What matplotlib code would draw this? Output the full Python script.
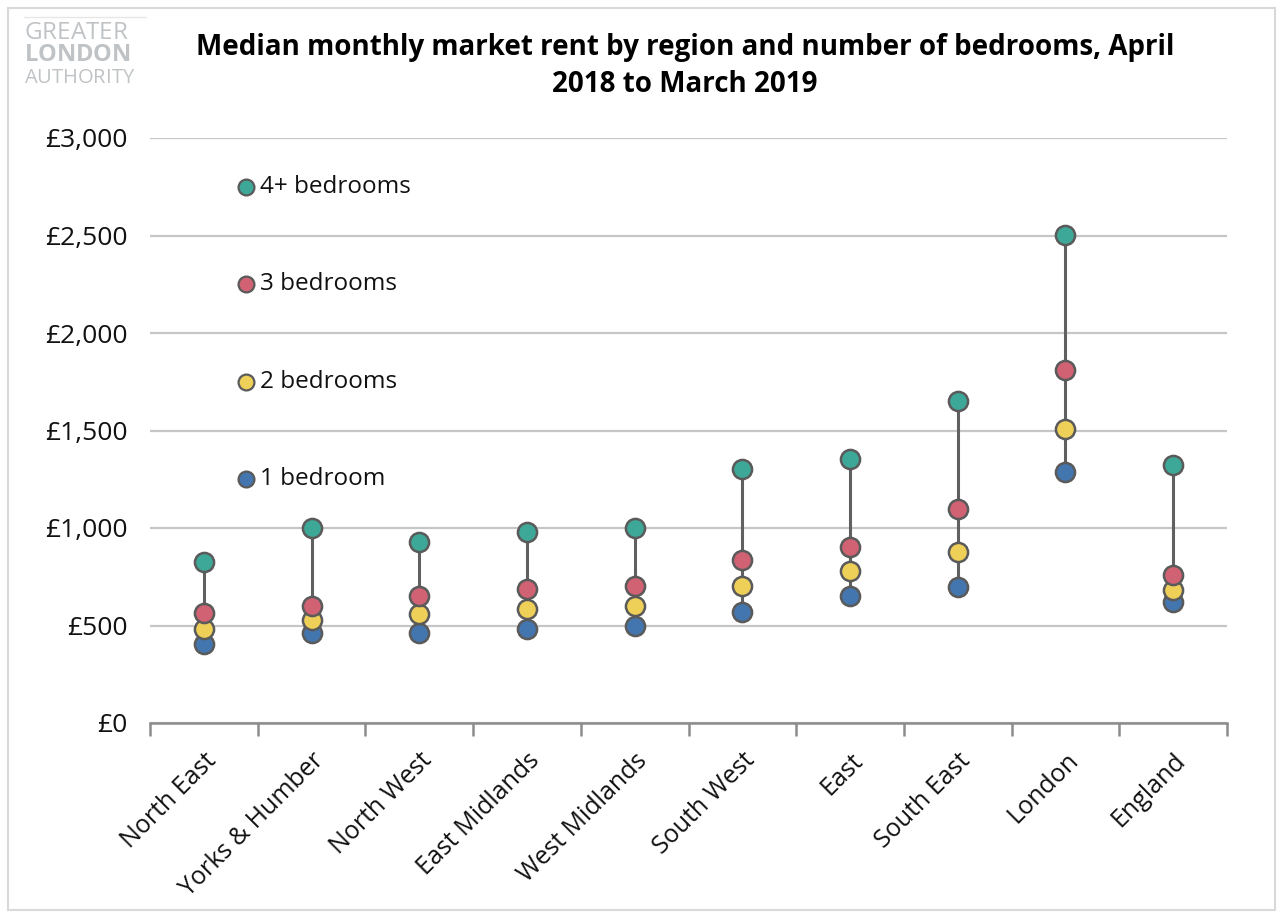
import numpy as np
import matplotlib
matplotlib.use("Agg")
import matplotlib.pyplot as plt
from matplotlib.patches import Rectangle

plt.rcParams["font.family"] = ["Open Sans", "DejaVu Sans"]
plt.rcParams["mathtext.fontset"] = "custom"
plt.rcParams["mathtext.bf"] = "Open Sans:bold"
plt.rcParams["mathtext.rm"] = "Open Sans"

regions = ["North East", "Yorks & Humber", "North West", "East Midlands",
           "West Midlands", "South West", "East", "South East", "London",
           "England"]
bed1 = [405, 460, 460, 480, 500, 570, 650, 700, 1285, 620]
bed2 = [480, 530, 560, 585, 600, 705, 780, 875, 1510, 680]
bed3 = [565, 600, 650, 685, 705, 835, 905, 1100, 1810, 760]
bed4 = [825, 1000, 930, 980, 1000, 1305, 1355, 1650, 2505, 1325]

series_names = ["1 bedroom", "2 bedrooms", "3 bedrooms", "4+ bedrooms"]
series_colors = ["#4375ae", "#eecf58", "#d06273", "#3ea898"]
legend_y = [1250, 1750, 2250, 2750]
yticks = [0, 500, 1000, 1500, 2000, 2500, 3000]

fig = plt.figure(figsize=(12.85, 9.18), dpi=100)
ax = fig.add_axes([150/1285, 1 - 723/918, (1227 - 150)/1285, (723 - 138)/918])

x = np.arange(len(regions))
lo = np.min([bed1, bed2, bed3, bed4], axis=0)
hi = np.max([bed1, bed2, bed3, bed4], axis=0)
ax.vlines(x, lo, hi, color="#606060", lw=2.2, zorder=2)

edge = "#5a5a5a"
for vals, name, col in zip([bed1, bed2, bed3, bed4], series_names, series_colors):
    ax.scatter(x, vals, s=190, color=col, edgecolor=edge, linewidth=1.8, zorder=3)

# inline legend
for ly, name, col in zip(legend_y, series_names, series_colors):
    ax.scatter([0.39], [ly], s=130, color=col, edgecolor=edge, linewidth=1.6,
               zorder=3, clip_on=False)
    ax.text(0.52, ly, name, fontsize=17.5, va="center", ha="left", color="#111111")

ax.set_xlim(-0.5, len(regions) - 0.5)
ax.set_ylim(0, 3000)
ax.set_yticks(yticks)
ax.set_yticklabels(["£{:,}".format(v) for v in yticks], fontsize=19, color="#111111")
ax.tick_params(axis="y", length=0, pad=16)
ax.yaxis.grid(True, color="#c6c6c6", lw=1.6)
ax.set_axisbelow(True)

ax.set_xticks(np.arange(-0.5, len(regions)), minor=False)
ax.set_xticklabels([])
ax.set_xticks(x, minor=True)
ax.set_xticklabels(regions, minor=True, rotation=45, ha="right",
                   rotation_mode="anchor", fontsize=18, color="#111111")
ax.tick_params(axis="x", which="major", length=9, width=1.8, color="#8c8c8c",
               direction="out")
ax.tick_params(axis="x", which="minor", length=0, pad=18)

for s in ["left", "right", "top"]:
    ax.spines[s].set_visible(False)
ax.spines["bottom"].set_color("#8c8c8c")
ax.spines["bottom"].set_linewidth(1.8)

fig.text(685/1285, 1 - 66/918,
         "Median monthly market rent by region and number of bedrooms, April\n2018 to March 2019",
         ha="center", va="center", fontsize=20, fontweight="bold", linespacing=1.32)

# logo: mathtext keeps the boxes tight to the glyphs
logo_col = "#c0c3c5"
fig.text(24/1285, 1 - 39/918, "$\\mathrm{GREATER}$", fontsize=17.5,
         color=logo_col, va="baseline", ha="left")
fig.text(24/1285, 1 - 61/918, "$\\mathbf{LONDON}$", fontsize=17,
         color=logo_col, va="baseline", ha="left")
fig.text(24/1285, 1 - 83/918, "$\\mathrm{AUTHORITY}$", fontsize=14.5,
         color=logo_col, va="baseline", ha="left")
fig.add_artist(plt.Line2D([24/1285, 146/1285], [1 - 17/918, 1 - 17/918],
                          transform=fig.transFigure, color="#e6e6e6", lw=1))

fig.add_artist(Rectangle((8/1285, 8/918), (1275 - 8)/1285, (910 - 8)/918,
                         transform=fig.transFigure, fill=False,
                         edgecolor="#d9d9d9", lw=1.5))

fig.savefig("out.png", dpi=100)
